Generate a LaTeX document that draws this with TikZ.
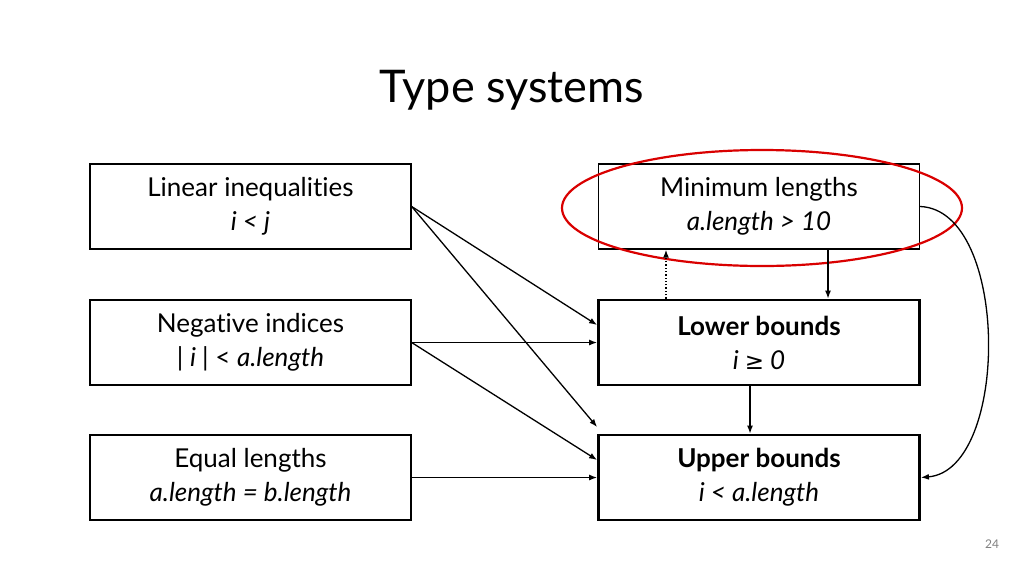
\documentclass[tikz,border=0pt]{standalone}
\usepackage{fontspec}
\setmainfont[Ligatures={NoCommon}]{Lato}
\newfontfamily\djv{DejaVu Sans}
\usetikzlibrary{arrows.meta}
\begin{document}
\begin{tikzpicture}[x=1pt,y=-1pt,
  box/.style={draw,line width=1.3pt,minimum width=321pt,minimum height=85pt,align=center,font=\fontsize{26}{34}\selectfont,inner sep=0pt},
  bbox/.style={box,line width=2.8pt},
  arr/.style={-{Latex[length=8pt,width=6pt]},line width=1.3pt}]
\useasboundingbox (0,0) rectangle (1024,576);
\node[font=\fontsize{45}{50}\selectfont] (title) at (512,90) {Type systems};
\node[box] (lin) at (250.5,206.5) {Linear inequalities\\\itshape i < j};
\node[box] (neg) at (250.5,342.5) {Negative indices\\| \itshape i \upshape| < \itshape a.length};
\node[box] (eq) at (250.5,477.5) {Equal lengths\\\itshape a.length = b.length};
\node[box] (min) at (759,206.5) {Minimum lengths\\\itshape a.length > 10};
\node[bbox] (low) at (759,342.5) {\bfseries Lower bounds\\\itshape i {\djv\fontsize{23}{34}\selectfont ≥} 0};
\node[bbox] (up) at (759,477.5) {\bfseries Upper bounds\\\itshape i < a.length};
\draw[red!85!black,line width=2.2pt] (762,208) ellipse [x radius=200, y radius=58];
\draw[arr] (lin.east) -- (low.west |- 0,325);
\draw[arr] (lin.east) -- (up.west |- 0,427);
\draw[arr] (neg.east) -- (low.west);
\draw[arr] (neg.east) -- (up.west |- 0,460);
\draw[arr] (eq.east) -- (up.west);
\draw[arr] (min.south -| 828,0) -- (low.north -| 828,0);
\draw[arr,dotted,line width=1.4pt] (low.north -| 666,0) -- (min.south -| 666,0);
\draw[arr] (low.south -| 750,0) -- (up.north -| 750,0);
\draw[arr] (min.east) .. controls (1010,210) and (1010,470) .. (up.east);
\node[text=gray,font=\fontsize{12}{14}\selectfont] (pg) at (992,544) {24};
\end{tikzpicture}
\end{document}
